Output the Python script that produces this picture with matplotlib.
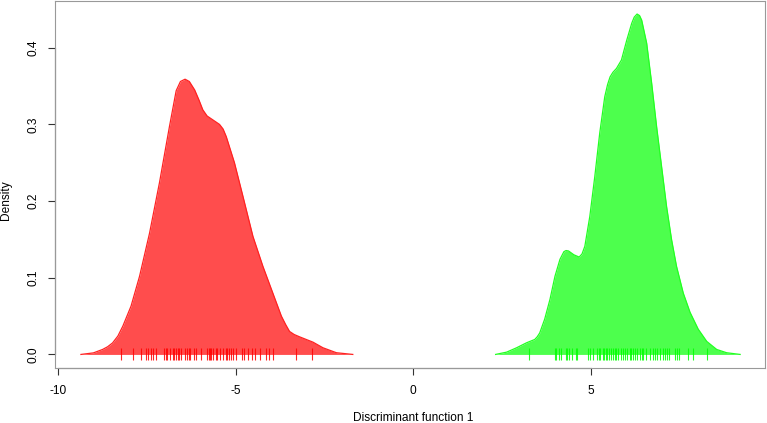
import numpy as np
import matplotlib
matplotlib.use("Agg")
import matplotlib.pyplot as plt

plt.rcParams['font.family'] = ['Liberation Sans', 'DejaVu Sans']

# density curves (discriminant function 1)
red_x = [-9.35, -9.0, -8.74, -8.60, -8.46, -8.31, -8.17, -7.94, -7.70, -7.42,
         -7.14, -6.86, -6.67, -6.55, -6.42, -6.30, -6.15, -6.03, -5.92, -5.80,
         -5.64, -5.45, -5.35, -5.26, -5.03, -4.79, -4.51, -4.23, -3.95, -3.71,
         -3.59, -3.48, -3.35, -3.20, -2.82, -2.54, -2.16, -1.70]
red_y = [0.0, 0.002, 0.0065, 0.010, 0.015, 0.024, 0.037, 0.063, 0.102, 0.158,
         0.224, 0.297, 0.344, 0.356, 0.359, 0.356, 0.345, 0.332, 0.319, 0.311,
         0.306, 0.300, 0.294, 0.284, 0.250, 0.206, 0.154, 0.115, 0.080, 0.050,
         0.039, 0.030, 0.026, 0.023, 0.016, 0.0087, 0.0022, 0.0]

green_x = [2.32, 2.63, 2.91, 3.19, 3.42, 3.49, 3.56, 3.70, 3.85, 3.99,
           4.13, 4.24, 4.30, 4.37, 4.52, 4.67, 4.75, 4.83, 4.97, 5.11,
           5.25, 5.39, 5.47, 5.54, 5.62, 5.72, 5.86, 6.01, 6.15, 6.22,
           6.30, 6.37, 6.43, 6.57, 6.71, 6.85, 6.99, 7.13, 7.27, 7.41,
           7.60, 7.79, 8.02, 8.26, 8.54, 8.82, 9.20]
green_y = [0.0, 0.003, 0.0087, 0.0152, 0.0195, 0.023, 0.028, 0.046, 0.072, 0.102,
           0.124, 0.134, 0.1355, 0.135, 0.130, 0.127, 0.131, 0.141, 0.180, 0.232,
           0.289, 0.336, 0.352, 0.362, 0.368, 0.373, 0.384, 0.410, 0.432, 0.440,
           0.444, 0.442, 0.436, 0.406, 0.354, 0.297, 0.245, 0.193, 0.150, 0.115,
           0.080, 0.055, 0.033, 0.017, 0.0065, 0.0022, 0.0]

# individual scores (rug)
red_rug = [-8.22, -7.89, -7.67, -7.52, -7.45, -7.37, -7.31, -7.23, -7.02, -6.97,
           -6.92, -6.83, -6.77, -6.72, -6.67, -6.62, -6.58, -6.53, -6.41, -6.37,
           -6.32, -6.28, -6.17, -6.11, -5.97, -5.81, -5.76, -5.72, -5.68, -5.62,
           -5.56, -5.52, -5.45, -5.36, -5.28, -5.23, -5.17, -5.12, -5.06, -5.00,
           -4.82, -4.75, -4.64, -4.55, -4.45, -4.30, -4.14, -4.06, -3.95, -3.29, -2.85]
green_rug = [3.26, 3.99, 4.03, 4.11, 4.15, 4.29, 4.34, 4.39, 4.46, 4.57,
             4.61, 4.92, 4.97, 5.05, 5.16, 5.22, 5.27, 5.33, 5.37, 5.42,
             5.46, 5.52, 5.58, 5.63, 5.68, 5.72, 5.77, 5.84, 5.89, 5.96,
             6.01, 6.10, 6.14, 6.19, 6.24, 6.29, 6.38, 6.43, 6.47, 6.55,
             6.66, 6.74, 6.80, 6.87, 6.94, 7.02, 7.08, 7.15, 7.21, 7.37,
             7.42, 7.49, 7.74, 7.88, 8.26]

xticks = [-10, -5, 0, 5]
yticks = [0.0, 0.1, 0.2, 0.3, 0.4]

W, H = 767, 423
fig = plt.figure(figsize=(W / 100, H / 100), dpi=100)
ax = fig.add_axes([55 / W, 1 - 368 / H, (765 - 55) / W, (368 - 1) / H])

groups = [(red_x, red_y, red_rug, '#ff4d4d', '#ff2222', '#ff0000'),
          (green_x, green_y, green_rug, '#4dff4d', '#22ff22', '#00ff00')]
for gx, gy, rug, fillc, edgec, rugc in groups:
    ax.fill_between(gx, 0, gy, color=fillc, lw=0)
    ax.plot(gx, gy, color=edgec, lw=0.9, solid_joinstyle='round')
    ax.plot(rug, np.zeros(len(rug)), '|', color=rugc, ms=8.5, mew=0.8, alpha=0.85)

ax.set_xlim(-10.08, 9.9)
ax.set_ylim(-0.0177, 0.461)

ax.set_xticks(xticks)
ax.set_xticklabels(['-10', '-5', '0', '5'])
ax.set_yticks(yticks)
ax.set_yticklabels(['0.0', '0.1', '0.2', '0.3', '0.4'], rotation=90, va='center')
ax.tick_params(axis='both', length=5, width=0.8, color='#333333', labelsize=8.6)
ax.tick_params(axis='x', pad=7)
ax.tick_params(axis='y', pad=6)

for s in ax.spines.values():
    s.set_color('#999999')
    s.set_linewidth(0.8)
# R-style axis lines between first and last tick
ax.plot([xticks[0], xticks[-1]], [0, 0], transform=ax.get_xaxis_transform(),
        color='#333333', lw=0.8, clip_on=False)
ax.plot([0, 0], [yticks[0], yticks[-1]], transform=ax.get_yaxis_transform(),
        color='#333333', lw=0.8, clip_on=False)

fig.text(413.5 / W, 1 - 418 / H, 'Discriminant function 1', ha='center', va='center', fontsize=8.6)
fig.text(6 / W, 1 - 200 / H, 'Density', ha='center', va='center', rotation=90, fontsize=8.6)

fig.savefig('out.png', dpi=100)
